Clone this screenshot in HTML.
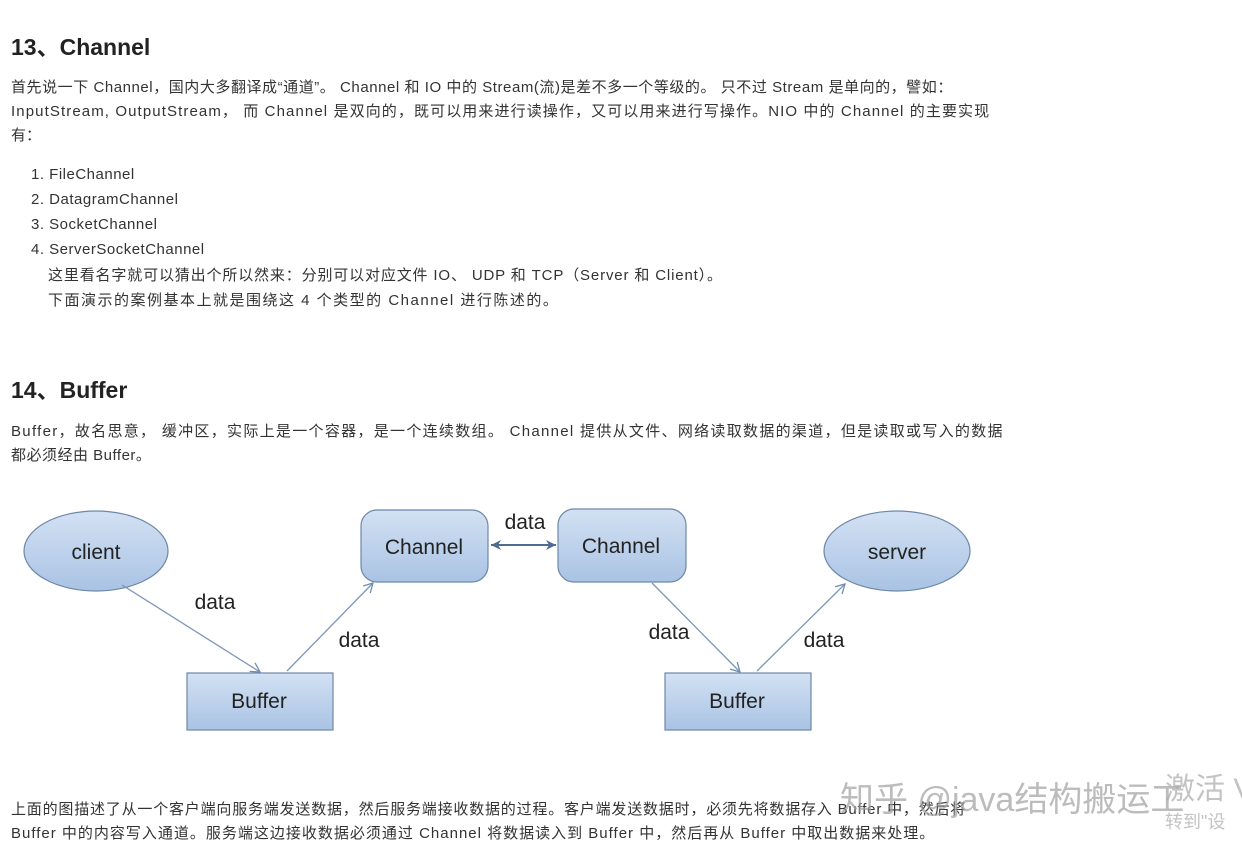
<!DOCTYPE html>
<html><head><meta charset="utf-8"><style>
body{margin:0;width:1242px;height:853px;background:#fff;position:relative;overflow:hidden;font-family:"Liberation Sans","Noto Sans CJK SC",sans-serif;color:#333;}
.l{position:absolute;white-space:nowrap;font-size:15px;line-height:20px;}
.h{position:absolute;left:11px;font-size:23px;font-weight:bold;color:#222;white-space:nowrap;}
</style></head><body>
<div class="h" style="top:28px">13、Channel</div>
<div class="l" style="left:11px;top:78px;letter-spacing:0.55px">首先说一下 Channel，国内大多翻译成“通道”。 Channel 和 IO 中的 Stream(流)是差不多一个等级的。 只不过 Stream 是单向的，譬如：</div>
<div class="l" style="left:11px;top:102px;letter-spacing:1.1px">InputStream, OutputStream， 而 Channel 是双向的，既可以用来进行读操作，又可以用来进行写操作。NIO 中的 Channel 的主要实现</div>
<div class="l" style="left:11px;top:126px">有：</div>
<div class="l" style="left:31px;top:165px;letter-spacing:0.5px">1. FileChannel</div>
<div class="l" style="left:31px;top:190px;letter-spacing:0.5px">2. DatagramChannel</div>
<div class="l" style="left:31px;top:215px;letter-spacing:0.5px">3. SocketChannel</div>
<div class="l" style="left:31px;top:240px;letter-spacing:0.5px">4. ServerSocketChannel</div>
<div class="l" style="left:48px;top:266px;letter-spacing:0.85px">这里看名字就可以猜出个所以然来：分别可以对应文件 IO、 UDP 和 TCP（Server 和 Client）。</div>
<div class="l" style="left:48px;top:291px;letter-spacing:1.5px">下面演示的案例基本上就是围绕这 4 个类型的 Channel 进行陈述的。</div>
<div class="h" style="top:371px">14、Buffer</div>
<div class="l" style="left:11px;top:422px;letter-spacing:1.3px">Buffer，故名思意， 缓冲区，实际上是一个容器，是一个连续数组。 Channel 提供从文件、网络读取数据的渠道，但是读取或写入的数据</div>
<div class="l" style="left:11px;top:446px;letter-spacing:0.5px">都必须经由 Buffer。</div>
<svg style="position:absolute;left:0;top:0" width="1242" height="853">
<defs><linearGradient id="g" x1="0" y1="0" x2="0" y2="1"><stop offset="0" stop-color="#d3e1f3"/><stop offset="1" stop-color="#a9c3e4"/></linearGradient>
<marker id="a" markerWidth="12" markerHeight="12" refX="10" refY="6" orient="auto" markerUnits="userSpaceOnUse"><path d="M1,1 L10,6 L1,11" fill="none" stroke="#6f8db0" stroke-width="1.3"/></marker>
<marker id="b" markerWidth="12" markerHeight="12" refX="10" refY="6" orient="auto-start-reverse" markerUnits="userSpaceOnUse"><path d="M0,1 L10,6 L0,11 L3,6z" fill="#4e6c90"/></marker></defs>
<g stroke="#6d87a8" stroke-width="1.2" fill="url(#g)">
<ellipse cx="96" cy="551" rx="72" ry="40"/>
<ellipse cx="897" cy="551" rx="73" ry="40"/>
<rect x="361" y="510" width="127" height="72" rx="16"/>
<rect x="558" y="509" width="128" height="73" rx="16"/>
<rect x="187" y="673" width="146" height="57"/>
<rect x="665" y="673" width="146" height="57"/>
</g>
<g stroke="#7c97b8" stroke-width="1.3" fill="none">
<line x1="122" y1="585" x2="260" y2="672" marker-end="url(#a)"/>
<line x1="287" y1="671" x2="373" y2="583" marker-end="url(#a)"/>
<line x1="652" y1="583" x2="740" y2="672" marker-end="url(#a)"/>
<line x1="757" y1="671" x2="845" y2="584" marker-end="url(#a)"/>
<line x1="491" y1="545" x2="556" y2="545" stroke="#4e6c90" stroke-width="2" marker-start="url(#b)" marker-end="url(#b)"/>
</g>
<g font-family="Liberation Sans,sans-serif" font-size="21" fill="#222" text-anchor="middle">
<text x="96" y="559">client</text><text x="897" y="559">server</text>
<text x="424" y="554">Channel</text><text x="621" y="553">Channel</text>
<text x="259" y="708">Buffer</text><text x="737" y="708">Buffer</text>
<text x="215" y="609">data</text><text x="359" y="647">data</text><text x="525" y="529">data</text>
<text x="669" y="639">data</text><text x="824" y="647">data</text>
</g>
</svg>
<div class="l" style="left:11px;top:800px;letter-spacing:0.8px">上面的图描述了从一个客户端向服务端发送数据，然后服务端接收数据的过程。客户端发送数据时，必须先将数据存入 Buffer 中，然后将</div>
<div class="l" style="left:11px;top:824px;letter-spacing:1.0px">Buffer 中的内容写入通道。服务端这边接收数据必须通过 Channel 将数据读入到 Buffer 中，然后再从 Buffer 中取出数据来处理。</div>
<div style="position:absolute;left:840px;top:772px;font-size:34px;color:rgba(160,160,160,0.7);white-space:nowrap">知乎 @java结构搬运工</div>
<div style="position:absolute;left:1165px;top:764px;font-size:30px;color:rgba(170,170,170,0.7);white-space:nowrap">激活 V</div>
<div style="position:absolute;left:1165px;top:808px;font-size:18px;color:rgba(170,170,170,0.7);white-space:nowrap">转到"设</div>
</body></html>
